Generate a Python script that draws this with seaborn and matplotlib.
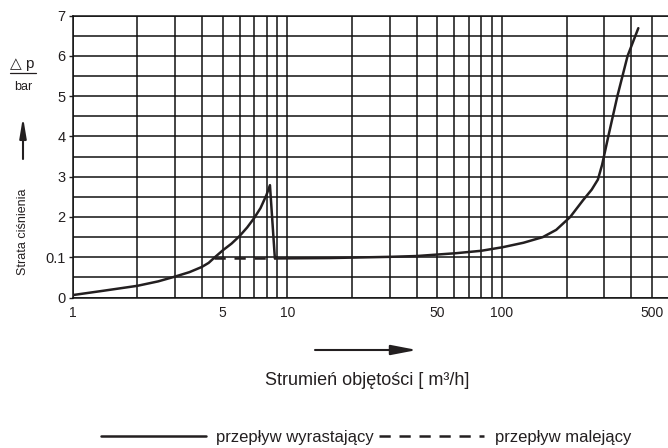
import matplotlib
matplotlib.use("Agg")
import matplotlib.pyplot as plt
from matplotlib.lines import Line2D
import pandas as pd
import seaborn as sns

# rising flow curve: flow in m3/h, pressure loss as position on the chart's uneven scale
flow_up = [1.0, 1.4, 2.0, 2.5, 3.0, 3.5, 4.0, 4.3, 4.55, 5.0, 5.5, 6.0, 6.5, 7.0, 7.5, 8.0, 8.3, 8.75,
           15.8, 30, 40, 61, 80, 101, 126, 155, 179, 208, 239, 262, 280, 293, 313, 345, 385, 432]
dp_up = [0.06, 0.17, 0.29, 0.40, 0.52, 0.63, 0.76, 0.86, 0.98, 1.17, 1.34, 1.53, 1.74, 1.97, 2.22, 2.55,
         2.79, 0.97, 0.98, 1.01, 1.03, 1.10, 1.16, 1.25, 1.36, 1.50, 1.68, 2.0, 2.42, 2.68, 2.93, 3.3,
         4.0, 5.0, 6.0, 6.69]

# falling flow curve
flow_down = [4.55, 8.75]
dp_down = [0.98, 0.98]

y_ticks = [0, 1, 2, 3, 4, 5, 6, 7]
y_labels = ["0", "0.1", "2", "3", "4", "5", "6", "7"]
x_major = [1, 5, 10, 50, 100, 500]
x_labels = ["1", "5", "10", "50", "100", "500"]
x_minor = [2, 3, 4, 6, 7, 8, 9, 20, 30, 40, 60, 70, 80, 90, 200, 300, 400]

INK = "#231f20"
W, H = 668, 448

sns.set_theme(style="white")
plt.rcParams["font.family"] = ["Liberation Sans", "DejaVu Sans"]

up = pd.DataFrame({"flow": flow_up, "dp": dp_up})
down = pd.DataFrame({"flow": flow_down, "dp": dp_down})

fig = plt.figure(figsize=(W / 100, H / 100), dpi=100)
ax = fig.add_axes([72.7 / W, 1 - 297.5 / H, 1 - 72.7 / W, (297.5 - 15.7) / H])

sns.lineplot(data=up, x="flow", y="dp", ax=ax, color=INK, lw=1.8,
             sort=False, estimator=None, label="przepływ wyrastający", zorder=5)
sns.lineplot(data=down, x="flow", y="dp", ax=ax, color=INK, lw=1.8,
             sort=False, estimator=None, label="przepływ malejący", zorder=5)
ax.lines[0].set_solid_joinstyle("round")
ax.lines[1].set_dashes((4.5, 3.5))

ax.set_xscale("log")
ax.set_xlim(1, 594)
ax.set_ylim(0, 7)
ax.set_xticks(x_major)
ax.set_xticklabels(x_labels)
ax.set_xticks(x_minor, minor=True)
ax.set_xticklabels([], minor=True)
ax.set_yticks(y_ticks)
ax.set_yticklabels(y_labels)
ax.set_yticks([v + 0.5 for v in y_ticks[:-1]], minor=True)

ax.grid(True, which="both", color="#111111", lw=1.1)
ax.tick_params(axis="x", which="both", length=0, labelsize=10, pad=6, colors=INK)
ax.tick_params(axis="y", which="major", left=True, length=3, width=1, labelsize=10.5,
               pad=2, colors=INK)
ax.tick_params(axis="y", which="minor", length=0)
for side in ["left", "bottom", "top"]:
    ax.spines[side].set_color("#111111")
    ax.spines[side].set_linewidth(1.1)
ax.spines["right"].set_visible(False)
ax.set_xlabel("")
ax.set_ylabel("")

# y axis caption
fig.text(22 / W, 1 - 64 / H, "△ p", ha="center", va="center", fontsize=11, color=INK)
fig.add_artist(Line2D([10 / W, 36 / W], [1 - 73.5 / H, 1 - 73.5 / H], color=INK, lw=0.9))
fig.text(23 / W, 1 - 87 / H, "bar", ha="center", va="center", fontsize=9, color=INK)
ax.annotate("", xy=(23 / W, 1 - 117 / H), xytext=(23 / W, 1 - 159 / H),
            xycoords="figure fraction", textcoords="figure fraction",
            arrowprops=dict(arrowstyle="-|>,head_length=1.2,head_width=0.2",
                            mutation_scale=10, color=INK, lw=1.5, shrinkA=0, shrinkB=0))
fig.text(23 / W, 1 - 232 / H, "Strata ciśnienia", rotation=90, ha="center", va="center",
         fontsize=9, color=INK)

# x axis caption
ax.annotate("", xy=(417 / W, 1 - 350 / H), xytext=(315 / W, 1 - 350 / H),
            xycoords="figure fraction", textcoords="figure fraction",
            arrowprops=dict(arrowstyle="-|>,head_length=1.3,head_width=0.25",
                            mutation_scale=12, color=INK, lw=1.5, shrinkA=0, shrinkB=0))
fig.text(367 / W, 1 - 380 / H, "Strumień objętości [ m³/h]", ha="center", va="center",
         fontsize=13, color=INK)

leg = ax.legend(loc="center", bbox_to_anchor=(366 / W, 1 - 437 / H),
                bbox_transform=fig.transFigure, ncol=2, frameon=False, fontsize=12,
                handlelength=6.3, handletextpad=0.65, columnspacing=0.3)
for t in leg.get_texts():
    t.set_color(INK)

fig.savefig("out.png", dpi=100)
